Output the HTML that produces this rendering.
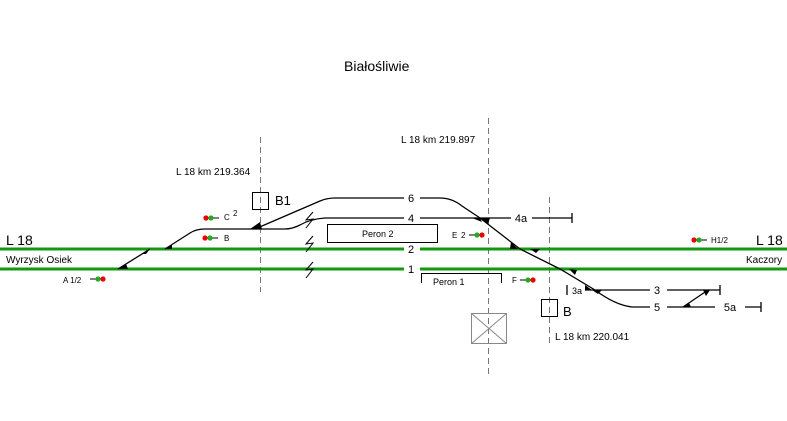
<!DOCTYPE html>
<html><head><meta charset="utf-8"><style>
html,body{margin:0;padding:0;background:#fff;}
svg{display:block;font-family:"Liberation Sans",sans-serif;}
</style></head><body>
<svg width="787" height="421" viewBox="0 0 787 421" xmlns="http://www.w3.org/2000/svg">
<text x="344" y="71" font-size="14">Białośliwie</text>
<text x="401" y="143" font-size="10">L 18  km  219.897</text>
<text x="176" y="175" font-size="10">L 18 km  219.364</text>
<text x="555" y="340" font-size="10">L 18 km  220.041</text>
<g stroke="#777" stroke-width="1" stroke-dasharray="6,4">
<line x1="260.5" y1="137" x2="260.5" y2="292"/>
<line x1="488.5" y1="118" x2="488.5" y2="376"/>
<line x1="549.5" y1="197" x2="549.5" y2="346"/>
</g>
<g stroke="#119911" stroke-width="3">
<line x1="0" y1="249" x2="404" y2="249"/>
<line x1="420" y1="249" x2="787" y2="249"/>
<line x1="0" y1="269" x2="404" y2="269"/>
<line x1="420" y1="269" x2="787" y2="269"/>
</g>
<g fill="none" stroke="#000" stroke-width="1.3">
<path d="M118 269 L150 249"/>
<path d="M165 249 L190 233 Q196 229 205 229 L285 229 Q292 229 300 225 Q310 219 325 218 L404 218"/>
<path d="M420 218 L511 218 M532 218 L572 218 M572 213 L572 223"/>
<path d="M255 229 L320 201 Q327 198 335 198 L404 198"/>
<path d="M420 198 L440 198 Q452 198 462 206 L480 218 L520 249 L560 269 L595 290 Q615 305 632 307 L650 307"/>
<path d="M667 307 L715 307 M745 307 L761 307 M761 302 L761 312"/>
<path d="M567 285 L567 295 M585 290 L650 290 M667 290 L720 290 M720 285 L720 295"/>
<path d="M683 307 L708 290"/>
</g>
<g fill="#000">
<path d="M118 269 L126 264 L128 269Z"/><path d="M142 254 L150 249 L146 254Z"/>
<path d="M165 249 L172 245 L172 249Z"/><path d="M250 229 L260 222 L262 229Z"/>
<path d="M472 218 L480 218 L482 222Z"/><path d="M480 218 L490 218 L488 224Z"/>
<path d="M511 242 L518 249 L510 249Z"/><path d="M530 249 L540 249 L536 253Z"/>
<path d="M569 269 L575 275 L577 270Z"/><path d="M585 285 L592 290 L585 290Z"/><path d="M592 290 L602 290 L598 294Z"/>
<path d="M703 290 L710 290 L706 296Z"/><path d="M683 307 L691 307 L689 303Z"/>
</g>
<g font-size="11" text-anchor="middle">
<text x="411" y="202">6</text><text x="411" y="222">4</text>
<text x="411" y="253">2</text><text x="411" y="273">1</text>
<text x="521" y="222">4a</text><text x="657" y="294">3</text>
<text x="657" y="311">5</text><text x="730" y="311">5a</text>
</g>
<text x="572" y="294" font-size="9">3a</text>
<text x="6" y="245" font-size="14">L 18</text>
<text x="756" y="245" font-size="14">L 18</text>
<text x="6" y="263" font-size="10">Wyrzysk Osiek</text>
<text x="746" y="263" font-size="10">Kaczory</text>
<g fill="none" stroke="#000">
<rect x="252.5" y="192.5" width="16" height="17"/>
<rect x="541.5" y="299.5" width="16" height="17"/>
<rect x="327.5" y="224.5" width="110" height="18"/>
<path d="M421.5 283 L421.5 273.5 L501.5 273.5 L501.5 283"/>
</g>
<g fill="none" stroke="#888">
<rect x="471.5" y="313.5" width="35" height="30"/>
<path d="M471.5 313.5 L506.5 343.5 M506.5 313.5 L471.5 343.5"/>
</g>
<text x="275" y="205" font-size="13">B1</text>
<text x="563" y="316" font-size="13">B</text>
<text x="362" y="237" font-size="9">Peron 2</text>
<text x="433" y="285" font-size="9">Peron 1</text>
<g fill="none" stroke="#000" stroke-width="1">
<path d="M313 212 L306 220 L313 219 L306 228"/>
<path d="M313 236 L306 244 L313 243 L306 252"/>
<path d="M313 262 L306 270 L313 269 L306 278"/>
</g>
<g font-size="8">
<text x="224" y="220">C</text><text x="233" y="216">2</text>
<text x="224" y="241">B</text>
<text x="63" y="283">A 1/2</text>
<text x="452" y="238">E</text><text x="461" y="238">2</text>
<text x="512" y="283">F</text>
<text x="711" y="243">H1/2</text>
</g>
<g stroke="#000"><line x1="213" y1="218" x2="219" y2="218"/><line x1="212" y1="238" x2="218" y2="238"/>
<line x1="90" y1="279" x2="96" y2="279"/><line x1="469" y1="235" x2="475" y2="235"/>
<line x1="520" y1="280" x2="526" y2="280"/><line x1="701" y1="240" x2="707" y2="240"/></g>
<g>
<circle cx="206" cy="218" r="2.6" fill="#e00"/><circle cx="211" cy="218" r="2.6" fill="#2a2"/>
<circle cx="205" cy="238" r="2.6" fill="#e00"/><circle cx="210" cy="238" r="2.6" fill="#2a2"/>
<circle cx="98" cy="279" r="2.6" fill="#2a2"/><circle cx="103" cy="279" r="2.6" fill="#e00"/>
<circle cx="477" cy="235" r="2.6" fill="#2a2"/><circle cx="482" cy="235" r="2.6" fill="#e00"/>
<circle cx="528" cy="280" r="2.6" fill="#2a2"/><circle cx="533" cy="280" r="2.6" fill="#e00"/>
<circle cx="694" cy="240" r="2.6" fill="#e00"/><circle cx="699" cy="240" r="2.6" fill="#2a2"/>
</g>
</svg>
</body></html>
